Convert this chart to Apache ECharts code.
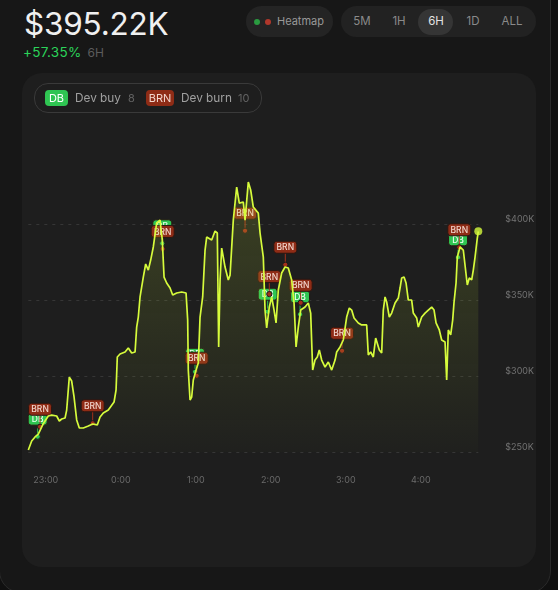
<!DOCTYPE html>
<html>
<head>
<meta charset="utf-8">
<script src="https://cdn.jsdelivr.net/npm/echarts@6/dist/echarts.min.js"></script>
<style>
  html, body { margin: 0; padding: 0; background: #101010; width: 558px; height: 590px; overflow: hidden; font-family: Inter, "Noto Sans", sans-serif; }
  .frame { position: absolute; left: -1px; top: -40px; width: 550px; height: 631px; background: #171717; border: 1px solid #2a2a2a; border-radius: 22px; }
  .price { position: absolute; left: 24px; top: 8px; font-size: 31.5px; line-height: 32px; color: #f0f0f0; letter-spacing: -0.2px; }
  .change { position: absolute; left: 23px; top: 44px; font-size: 13.5px; line-height: 16px; color: #2bd45a; letter-spacing: 0.3px; }
  .change span { color: #5c5c5c; margin-left: 6px; font-size: 12px; letter-spacing: 0; }
  .pill { position: absolute; top: 6px; height: 31px; border-radius: 16px; background: #242424; }
  .heat { left: 246px; width: 87px; }
  .heat i { position: absolute; top: 13px; width: 6px; height: 6px; border-radius: 3px; }
  .heat b { position: absolute; left: 31px; top: 8px; font-size: 11px; line-height: 15px; font-weight: 400; color: #999; }
  .ranges { left: 341px; width: 195px; background: #222; }
  .ranges b { position: absolute; top: 8px; font-size: 11.5px; line-height: 15px; font-weight: 400; color: #8a8a8a; transform: translateX(-50%); }
  .ranges .on { position: absolute; left: 77px; top: 3px; width: 35px; height: 26px; border-radius: 13px; background: #353535; }
  .panel { position: absolute; left: 22px; top: 73px; width: 514px; height: 494px; border-radius: 20px; background: #1e1e1e; }
  .legend { position: absolute; left: 12px; top: 10px; width: 226px; height: 28px; border: 1px solid #3a3a3a; border-radius: 14px; }
  .legend .badge { position: absolute; top: 6px; height: 16px; line-height: 16px; border-radius: 4px; font-size: 11px; text-align: center; }
  .legend .lbl { position: absolute; top: 6px; line-height: 16px; font-size: 11.8px; color: #a0a0a0; }
  .legend .cnt { position: absolute; top: 6px; line-height: 16px; font-size: 11px; color: #636363; }
  #chart { position: absolute; left: 0; top: 0; width: 514px; height: 494px; }
</style>
</head>
<body>
<div class="frame"></div>
<div class="price">$395.22K</div>
<div class="change">+57.35%<span>6H</span></div>
<div class="pill heat">
  <i style="left:8px;background:#2a9b40"></i><i style="left:19px;background:#b0372b"></i>
  <b>Heatmap</b>
</div>
<div class="pill ranges">
  <div class="on"></div>
  <b style="left:21px">5M</b>
  <b style="left:58px">1H</b>
  <b style="left:95px;color:#e2e2e2">6H</b>
  <b style="left:132px">1D</b>
  <b style="left:171px">ALL</b>
</div>
<div class="panel">
  <div id="chart"></div>
  <div class="legend">
    <div class="badge" style="left:10px;width:23px;background:#2fc552;color:#fff">DB</div>
    <div class="lbl" style="left:40px">Dev buy</div>
    <div class="cnt" style="left:93px">8</div>
    <div class="badge" style="left:111px;width:28px;background:#8f2c16;color:#f3d6cd">BRN</div>
    <div class="lbl" style="left:146px">Dev burn</div>
    <div class="cnt" style="left:203px">10</div>
  </div>
</div>
<script>
// minutes after 22:46, price in $K
const minutes = [0, 2.7, 5.4, 8.0, 11.8, 16.0, 18.7, 22.7, 24.8, 26.7, 29.4, 30.7, 32.8, 34.7, 36.6, 38.7, 40.8, 44.0, 48.0, 51.5,
  55.2, 57.4, 60.0, 64.0, 68.6, 70.2, 71.2, 73.4, 77.4, 80.0, 82.7, 85.4, 86.7, 88.0, 89.4, 92.0, 93.9, 96.0, 97.9, 100.0,
  102.7, 105.4, 107.2, 108.6, 110.7, 113.4, 115.5, 118.7, 122.7, 126.2, 127.5, 128.0, 129.4, 130.7, 132.0, 134.2, 136.0, 137.4, 139.5, 141.4,
  142.7, 146.7, 149.4, 151.2, 152.3, 153.4, 154.7, 157.4, 160.0, 161.4, 164.0, 166.7, 168.8, 172.0, 173.4, 176.0, 177.9, 180.0, 184.0, 185.4,
  188.0, 189.4, 190.7, 192.8, 194.7, 196.6, 198.2, 200.0, 202.7, 205.4, 208.0, 210.7, 212.6, 214.2, 216.0, 217.9, 221.4, 224.0, 225.9, 227.5,
  229.4, 231.2, 232.8, 234.7, 237.4, 240.0, 242.7, 245.4, 246.7, 249.4, 252.0, 254.7, 256.8, 258.7, 260.6, 264.0, 266.7, 270.7, 272.0, 273.9,
  276.0, 277.9, 279.5, 280.8, 282.7, 284.0, 285.4, 286.7, 288.8, 290.7, 293.4, 296.0, 297.4, 298.7, 300.6, 302.2, 304.0, 306.7, 308.0, 310.7,
  312.0, 314.7, 317.4, 320.0, 322.7, 324.6, 326.2, 328.8, 330.7, 333.4, 334.7, 336.0, 337.9, 339.5, 340.6, 342.2, 343.2, 345.4, 348.0, 349.4,
  351.2, 352.8, 354.7, 356.0, 357.4, 359.2, 360.0];
const prices = [251.3, 257.2, 259.9, 261.8, 268.4, 273.7, 274.3, 273.7, 270.4, 271.7, 272.4, 277.6, 299.3, 296.7, 286.2, 271.1, 265.8, 265.8, 267.1, 268.4,
  267.8, 273.0, 275.7, 277.6, 282.9, 290.8, 312.5, 314.5, 315.8, 318.4, 315.1, 315.8, 332.2, 338.8, 352.0, 365.1, 373.7, 369.7, 376.3, 384.9,
  400.7, 402.6, 389.5, 365.1, 361.2, 357.9, 353.3, 354.6, 355.3, 354.6, 336.8, 303.9, 284.2, 286.2, 297.4, 303.9, 308.6, 338.8, 352.0, 382.9,
  391.4, 389.5, 395.4, 394.1, 319.1, 363.2, 384.2, 371.7, 363.2, 366.4, 402.6, 424.3, 413.8, 414.5, 402.6, 427.6, 422.4, 411.2, 407.2, 394.1,
  378.3, 343.4, 331.6, 345.4, 352.0, 343.4, 334.9, 356.6, 367.8, 371.7, 371.1, 363.2, 348.0, 319.1, 332.2, 343.4, 345.4, 348.0, 341.4, 303.9,
  310.5, 312.5, 317.1, 310.5, 305.9, 309.2, 303.9, 310.5, 315.8, 319.1, 323.7, 338.8, 344.7, 343.4, 338.2, 334.9, 333.6, 333.6, 313.8, 315.8,
  312.5, 325.0, 325.7, 317.1, 315.1, 343.4, 352.0, 348.7, 338.8, 341.4, 348.0, 351.3, 357.9, 364.5, 365.1, 361.2, 350.0, 350.0, 341.4, 338.2,
  332.2, 338.8, 341.4, 343.4, 345.4, 343.4, 334.9, 330.3, 323.7, 322.4, 297.4, 330.3, 327.0, 336.8, 348.7, 361.2, 378.3, 384.9, 382.9, 381.6,
  359.9, 364.5, 363.2, 369.7, 378.3, 390.8, 395.22];

// dev trades: minute, price ($K)
const devBuyMinutes = [7.5, 107.2, 133.4, 191.5, 217.4, 343.8];
const devBuyPrices = [260.1, 387.3, 302.8, 342.3, 340.6, 378.1];
const devBurnMinutes = [9.4, 51.5, 107.5, 134.7, 173.4, 192.8, 205.6, 217.9, 251.0, 344.8];
const devBurnPrices = [266.6, 268.9, 383.6, 300.2, 395.6, 353.9, 373.2, 348.2, 316.6, 384.7];

const yTicks = [250, 300, 350, 400];

const start = new Date(2024, 0, 1, 22, 46).getTime();
const toPoint = (m, p) => [start + m * 60000, p * 1000];

const lineData = minutes.map((m, i) => toPoint(m, prices[i]));
const buyData = devBuyMinutes.map((m, i) => toPoint(m, devBuyPrices[i]));
const burnData = devBurnMinutes.map((m, i) => toPoint(m, devBurnPrices[i]));

function markerSeries(name, data, text, fill, dot, textColor, w) {
  return {
    type: 'custom',
    name: name,
    data: data,
    renderItem: function (params, api) {
      const p = api.coord([api.value(0), api.value(1)]);
      const ly = p[1] - 17.5;
      return {
        type: 'group',
        children: [
          { type: 'line', shape: { x1: p[0], y1: ly + 5, x2: p[0], y2: p[1] }, style: { stroke: dot, lineWidth: 1 } },
          { type: 'rect', shape: { x: p[0] - w / 2, y: ly - 6, width: w, height: 12, r: 3 }, style: { fill: fill, stroke: '#2a1712', lineWidth: 1 } },
          { type: 'text', style: { text: text, x: p[0], y: ly + 0.5, align: 'center', verticalAlign: 'middle', fill: textColor, font: '500 8.5px Inter' } },
          { type: 'circle', shape: { cx: p[0], cy: p[1], r: 2.6 }, style: { fill: dot, stroke: '#1b1b1b', lineWidth: 1 } }
        ]
      };
    }
  };
}

const chart = echarts.init(document.getElementById('chart'));
chart.setOption({
  animation: false,
  grid: { left: 6.3, right: 57.7, top: 102.4, bottom: 115, outerBoundsMode: 'none', containLabel: false },
  xAxis: {
    type: 'time',
    min: start,
    max: start + 360 * 60000,
    minInterval: 3600000,
    maxInterval: 3600000,
    axisLine: { show: false },
    axisTick: { show: false },
    splitLine: { show: false },
    axisLabel: { color: '#6a6a6a', fontSize: 9, fontFamily: 'Inter', margin: 24, formatter: '{H}:{mm}', showMinLabel: false, showMaxLabel: false }
  },
  yAxis: {
    type: 'value',
    position: 'right',
    min: 250000,
    max: 432000,
    interval: 50000,
    axisLine: { show: false },
    axisTick: { show: false },
    splitLine: { showMaxLine: false, lineStyle: { color: '#363636', type: [3, 5] } },
    axisLabel: {
      color: '#727272', fontSize: 9, fontFamily: 'Inter', margin: 27, verticalAlign: 'bottom', showMaxLabel: false,
      formatter: v => yTicks.includes(v / 1000) ? '$' + v / 1000 + 'K' : ''
    }
  },
  series: [
    {
      type: 'line',
      data: lineData,
      showSymbol: false,
      lineStyle: { color: '#d6fb3c', width: 1.7 },
      areaStyle: {
        color: new echarts.graphic.LinearGradient(0, 0, 0, 1, [
          { offset: 0, color: 'rgba(196, 230, 60, 0.26)' },
          { offset: 1, color: 'rgba(196, 230, 60, 0.02)' }
        ])
      }
    },
    {
      type: 'scatter',
      data: [lineData[lineData.length - 1]],
      symbolSize: 8,
      itemStyle: { color: '#d6fb3c' }
    },
    markerSeries('Dev buy', buyData, 'DB', '#2fc552', '#2fc552', '#eafff0', 19),
    markerSeries('Dev burn', burnData, 'BRN', '#8f2c16', '#a3301a', '#f3d6cd', 23)
  ]
});
</script>
</body>
</html>
